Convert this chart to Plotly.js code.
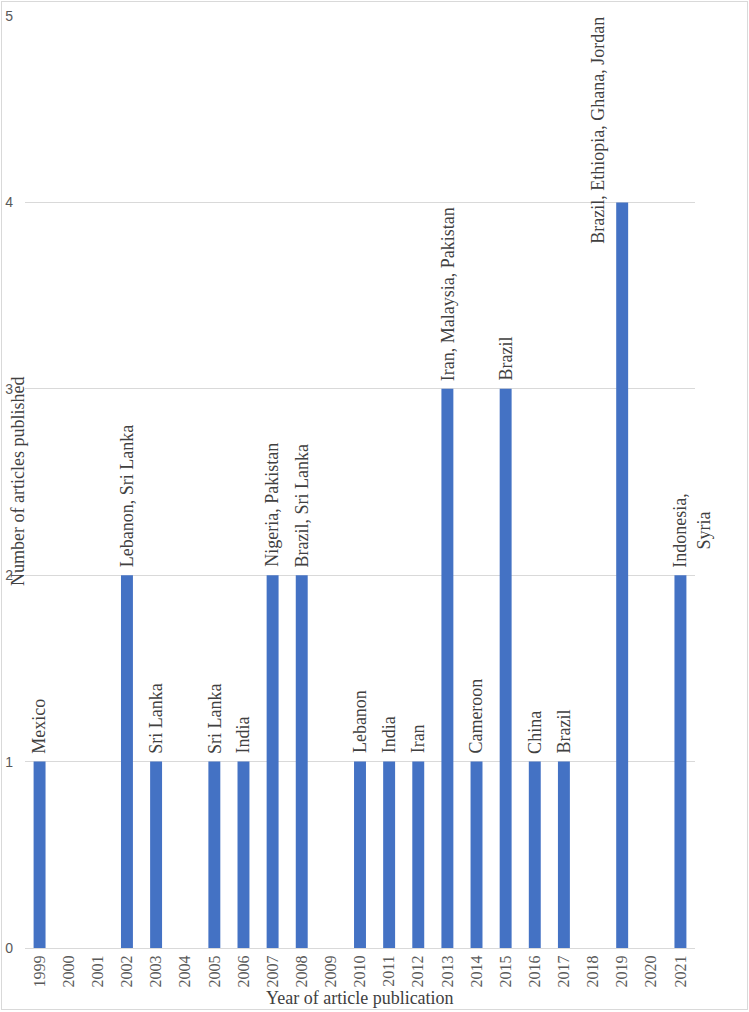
<!DOCTYPE html>
<html>
<head>
<meta charset="utf-8">
<script src="https://cdn.plot.ly/plotly-3.0.1.min.js"></script>
<style>
  html, body { margin: 0; padding: 0; background: #fff; }
  #wrap { position: relative; width: 749px; height: 1012px; }
  #chart { position: absolute; left: 0; top: 0; width: 749px; height: 1012px; }
  #frame { position: absolute; left: 1px; top: 1px; width: 745px; height: 1007px;
           border: 1px solid #d9d9d9; pointer-events: none; }
</style>
</head>
<body>
<div id="wrap">
  <div id="chart"></div>
  <div id="frame"></div>
</div>
<script>
// ---- data ----
const years = [1999,2000,2001,2002,2003,2004,2005,2006,2007,2008,2009,
               2010,2011,2012,2013,2014,2015,2016,2017,2018,2019,2020,2021];
const articles = [1,0,0,2,1,0,1,1,2,2,0,1,1,1,3,1,3,1,1,0,4,0,2];
const countries = ["Mexico","","","Lebanon, Sri Lanka","Sri Lanka","","Sri Lanka","India",
                   "Nigeria, Pakistan","Brazil, Sri Lanka","","Lebanon","India","Iran",
                   "Iran, Malaysia, Pakistan","Cameroon","Brazil","China","Brazil","",
                   "Brazil, Ethiopia, Ghana, Jordan","","Indonesia,<br>Syria"];
const yTicks = [0,1,2,3,4,5];

// ---- styling ----
const serif = "Liberation Serif, Times New Roman, serif";
const labelFont = {family: serif, size: 18, color: "#404040"};

const annotations = [];
years.forEach((yr, i) => {
  if (!countries[i]) return;
  const a = {
    x: yr, y: articles[i], xref: "x", yref: "y",
    text: countries[i], showarrow: false, textangle: -90,
    xanchor: "center", yanchor: "bottom", align: "center",
    yshift: 6, font: labelFont
  };
  if (countries[i].indexOf("<br>") >= 0) a.xshift = 11;
  // label too long to fit above the 2019 bar: placed at top, left of bar
  if (yr === 2019) { a.y = 5; a.yanchor = "top"; a.yshift = 1; a.xshift = -25; }
  annotations.push(a);
});

annotations.push({
  xref: "paper", yref: "paper", x: 0, y: 0.5, xanchor: "center", yanchor: "middle",
  xshift: -7, textangle: -90, showarrow: false,
  text: "Number of articles published", font: labelFont
});
annotations.push({
  xref: "paper", yref: "paper", x: 0.5, y: 0, xanchor: "center", yanchor: "middle",
  yshift: -50, showarrow: false,
  text: "Year of article publication", font: labelFont
});

const trace = {
  type: "bar", x: years, y: articles,
  marker: {color: "#4472C4"},
  hoverinfo: "x+y"
};

const layout = {
  width: 749, height: 1012,
  margin: {l: 25, r: 54, t: 16, b: 64, pad: 0},
  paper_bgcolor: "#fff", plot_bgcolor: "#fff",
  showlegend: false,
  bargap: 0.59,
  xaxis: {
    type: "linear", range: [1998.5, 2021.5],
    tickvals: years, ticktext: years.map(String),
    showgrid: false, showline: true, linecolor: "#d9d9d9", linewidth: 1,
    ticks: "", tickangle: -90,
    tickfont: {family: serif, size: 16, color: "#595959"},
    zeroline: false, fixedrange: true
  },
  yaxis: {
    range: [0, 5], tickvals: yTicks, ticktext: yTicks.map(String),
    showgrid: true, gridcolor: "#d9d9d9", gridwidth: 1,
    zeroline: false, showline: false, ticks: "",
    ticklabelstandoff: 11,
    tickfont: {family: "Liberation Sans, Arial, sans-serif", size: 14, color: "#595959"},
    fixedrange: true
  },
  annotations: annotations
};

Plotly.newPlot("chart", [trace], layout, {displayModeBar: false, staticPlot: true});
</script>
</body>
</html>
